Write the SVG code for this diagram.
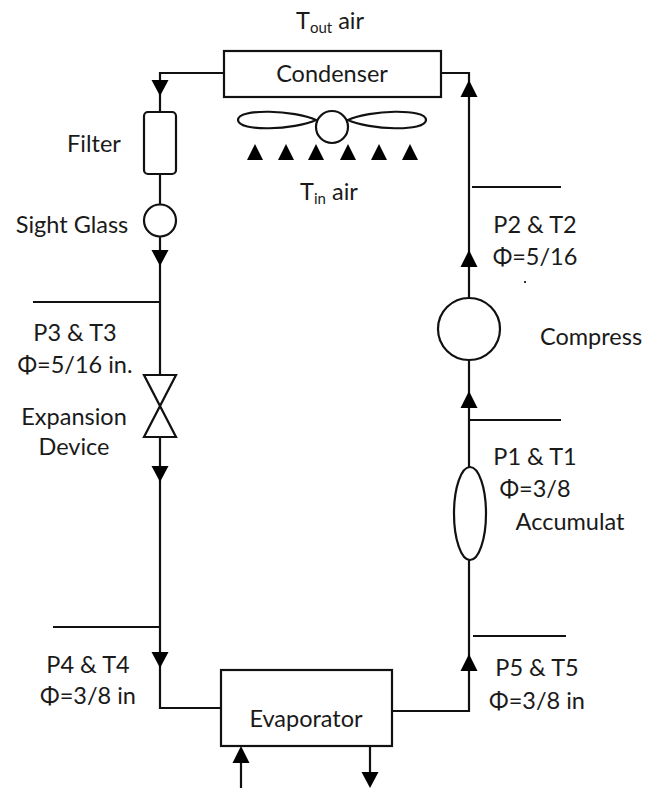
<svg xmlns="http://www.w3.org/2000/svg" width="655" height="791" viewBox="0 0 655 791">
<style>
text{font-family:"Lato","Liberation Sans",sans-serif;font-size:23.500px;fill:#1a1a1a;text-anchor:middle}
.l{fill:none;stroke:#111;stroke-width:2.2}
.s{fill:#fff;stroke:#111;stroke-width:2.2}
.t{fill:#000}
.sub{font-size:15px}
</style>
<defs>
<polygon id="up" class="t" points="0,-9 8.500,8 -8.500,8"/>
<polygon id="dn" class="t" points="0,8 8.500,-8 -8.500,-8"/>
</defs>
<rect width="655" height="791" fill="#fff"/>
<g id="connectors">
<path class="l" d="M224 73H160V112M160 174V204M160 237V375M160 437V708H221"/>
<path class="l" d="M441 73H469V298M469 360V467M469 560V711H392"/>
<path class="l" d="M33 302H160M53 627H160M472 187H561M469 420H561M473 636H566"/>
<path class="l" d="M241 788V750M370 746V780"/>
<use href="#dn" x="160" y="88"/>
<use href="#dn" x="160" y="258"/>
<use href="#dn" x="160" y="474"/>
<use href="#dn" x="160" y="660"/>
<use href="#up" x="469" y="89"/>
<use href="#up" x="469" y="259"/>
<use href="#up" x="469" y="400"/>
<use href="#up" x="469" y="663"/>
<use href="#up" x="241" y="755"/>
<use href="#dn" x="370" y="780"/>
</g>
<g id="condenser"><rect class="s" x="224" y="51" width="217" height="46"/><text x="332" y="82">Condenser</text></g>
<g id="fan">
<path class="s" d="M316 120C295 110 238 108 238 120C238 132 295 130 316 120Z"/>
<path class="s" d="M348 120C369 110 426 108 426 120C426 132 369 130 348 120Z"/>
<circle class="s" cx="332" cy="127" r="16"/>
<polygon class="t" points="255,144 263,160 247,160"/>
<polygon class="t" points="286,144 294,160 278,160"/>
<polygon class="t" points="316,144 324,160 308,160"/>
<polygon class="t" points="348,144 356,160 340,160"/>
<polygon class="t" points="379,144 387,160 371,160"/>
<polygon class="t" points="410,144 418,160 402,160"/>
</g>
<g id="tout"><text x="330" y="29">T<tspan class="sub" dy="4">out</tspan><tspan dy="-4"> air</tspan></text></g>
<g id="tin"><text x="329" y="200">T<tspan class="sub" dy="4">in</tspan><tspan dy="-4"> air</tspan></text></g>
<g id="filter"><rect class="s" x="144" y="112" width="32" height="62" rx="4"/><text x="94" y="152">Filter</text></g>
<g id="sight-glass"><circle class="s" cx="160" cy="220.500" r="16"/><text x="72" y="233">Sight Glass</text></g>
<g id="p3"><text x="75" y="341">P3 &amp; T3</text><text x="75" y="373">Φ=5/16 in.</text></g>
<g id="expansion"><path class="s" d="M144 375H176L144 437H176Z"/><text x="74" y="425">Expansion</text><text x="74" y="455">Device</text></g>
<g id="p4"><text x="88" y="673">P4 &amp; T4</text><text x="88" y="704">Φ=3/8 in</text></g>
<g id="evaporator"><rect class="s" x="221" y="670" width="171" height="76"/><text x="306" y="727">Evaporator</text></g>
<g id="p5"><text x="537" y="676">P5 &amp; T5</text><text x="537" y="709">Φ=3/8 in</text></g>
<g id="accumulator"><ellipse class="s" cx="470" cy="513.500" rx="16" ry="46.500"/><text x="535" y="465">P1 &amp; T1</text><text x="535" y="497">Φ=3/8</text><text x="570" y="530">Accumulat</text></g>
<g id="compressor"><circle class="s" cx="469" cy="329" r="31"/><text x="591" y="345">Compress</text></g>
<g id="p2"><text x="535" y="233">P2 &amp; T2</text><text x="535" y="265">Φ=5/16</text><rect x="524" y="281" width="2" height="2" fill="#333"/></g>
</svg>
